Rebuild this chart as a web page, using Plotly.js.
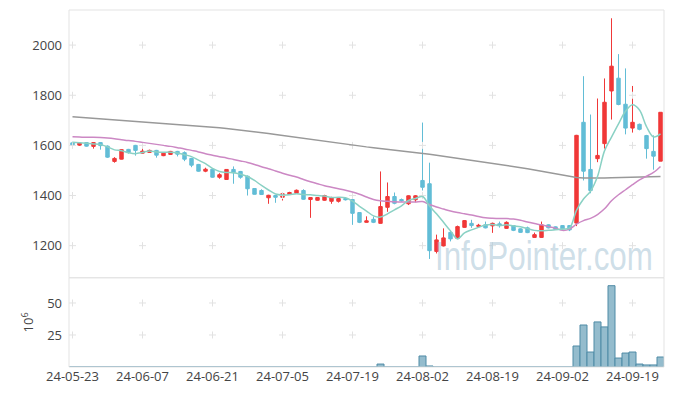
<!DOCTYPE html>
<html><head><meta charset="utf-8">
<script src="https://cdn.plot.ly/plotly-3.0.1.min.js"></script>
<style>html,body{margin:0;padding:0;background:#fff}#c{width:673px;height:396px}</style>
</head><body><div id="c"></div>
<script>
var dates = ["24-05-23","24-05-24","24-05-27","24-05-28","24-05-29","24-05-30","24-05-31","24-06-03","24-06-04","24-06-05",
"24-06-07","24-06-10","24-06-11","24-06-12","24-06-13","24-06-14","24-06-17","24-06-18","24-06-19","24-06-20",
"24-06-21","24-06-24","24-06-25","24-06-26","24-06-27","24-06-28","24-07-01","24-07-02","24-07-03","24-07-04",
"24-07-05","24-07-08","24-07-09","24-07-10","24-07-11","24-07-12","24-07-15","24-07-16","24-07-17","24-07-18",
"24-07-19","24-07-22","24-07-23","24-07-24","24-07-25","24-07-26","24-07-29","24-07-30","24-07-31","24-08-01",
"24-08-02","24-08-05","24-08-06","24-08-07","24-08-08","24-08-09","24-08-12","24-08-13","24-08-14","24-08-16",
"24-08-19","24-08-20","24-08-21","24-08-22","24-08-23","24-08-26","24-08-27","24-08-28","24-08-29","24-08-30",
"24-09-02","24-09-03","24-09-04","24-09-05","24-09-06","24-09-09","24-09-10","24-09-11","24-09-12","24-09-13",
"24-09-19","24-09-20","24-09-23","24-09-24","24-09-25"];

var openP = [1610,1601,1611,1596,1611,1597,1536,1545,1584,1600,
1569,1572,1580,1559,1564,1576,1571,1548,1524,1497,
1505,1473,1464,1504,1496,1477,1428,1420,1391,1400,
1393,1404,1409,1420,1384,1381,1381,1377,1377,1388,
1384,1332,1293,1305,1289,1353,1396,1384,1367,1383,
1460,1447,1177,1199,1253,1229,1273,1289,1277,1283,
1279,1287,1269,1280,1267,1271,1233,1233,1283,1275,
1280,1280,1290,1692,1504,1547,1607,1817,1868,1764,
1669,1684,1639,1576,1537];
var highP = [1614,1612,1613,1613,1613,1600,1553,1584,1586,1602,
1591,1583,1582,1572,1578,1578,1576,1550,1526,1511,
1507,1489,1504,1516,1498,1480,1430,1425,1403,1402,
1409,1415,1424,1425,1393,1394,1403,1395,1390,1392,
1396,1334,1317,1316,1496,1452,1412,1388,1401,1402,
1691,1531,1244,1269,1260,1280,1302,1303,1287,1296,
1292,1296,1297,1282,1269,1276,1252,1296,1285,1277,
1282,1282,1642,1876,1723,1787,1867,2107,1964,1907,
1837,1687,1642,1640,1732];
var lowP = [1598,1598,1595,1587,1583,1550,1531,1544,1567,1559,
1567,1570,1551,1557,1562,1556,1537,1513,1495,1493,
1471,1467,1462,1447,1467,1400,1404,1402,1367,1371,
1380,1402,1407,1383,1311,1379,1379,1367,1372,1380,
1283,1290,1292,1290,1288,1335,1365,1375,1362,1373,
1420,1147,1169,1197,1217,1227,1271,1271,1275,1269,
1251,1272,1267,1258,1251,1250,1231,1231,1269,1263,
1265,1258,1278,1460,1409,1533,1587,1703,1760,1644,
1651,1660,1547,1503,1537];
var closeP = [1601,1609,1597,1611,1599,1553,1548,1583,1572,1580,
1577,1580,1561,1569,1576,1565,1545,1521,1497,1505,
1473,1483,1504,1491,1473,1427,1405,1404,1401,1393,
1407,1412,1421,1385,1392,1392,1400,1392,1388,1383,
1329,1293,1299,1293,1356,1396,1369,1379,1399,1399,
1433,1180,1223,1231,1227,1276,1300,1280,1281,1271,
1289,1280,1293,1261,1253,1252,1244,1283,1271,1265,
1267,1263,1640,1497,1420,1560,1772,1916,1763,1669,
1692,1664,1587,1557,1732];

var ma5 = [1612,1610,1608,1606,1603,1594,1582,1579,1571,1567,
1572,1578,1574,1573,1573,1570,1563,1555,1541,1527,
1508,1496,1492,1491,1485,1476,1460,1440,1422,1406,
1402,1403,1407,1404,1403,1400,1398,1392,1393,1391,
1378,1357,1338,1319,1314,1327,1343,1359,1380,1388,
1396,1358,1327,1293,1259,1227,1251,1263,1273,1282,
1284,1280,1283,1279,1275,1268,1261,1259,1261,1263,
1266,1270,1341,1386,1417,1476,1578,1633,1686,1736,
1762,1741,1675,1634,1646];
var ma20 = [1634,1633,1632,1632,1631,1629,1626,1622,1619,1616,
1612,1608,1604,1600,1596,1591,1586,1580,1574,1567,
1561,1555,1550,1544,1538,1532,1524,1515,1507,1498,
1489,1481,1474,1464,1455,1447,1439,1433,1427,1421,
1414,1405,1394,1384,1379,1377,1375,1374,1374,1374,
1376,1364,1354,1346,1338,1332,1327,1322,1316,1311,
1309,1308,1308,1306,1301,1294,1288,1283,1276,1270,
1261,1266,1286,1300,1309,1324,1347,1379,1403,1423,
1443,1462,1477,1492,1516];
var ma120 = [1714,1712,1710,1708,1706,1704,1702,1700,1698,1696,
1694,1692,1690,1688,1686,1684,1682,1680,1678,1676,
1673,1670,1667,1664,1661,1658,1655,1651,1647,1643,
1639,1635,1631,1627,1623,1619,1615,1611,1607,1604,
1601,1597,1594,1591,1588,1585,1582,1579,1575,1572,
1568,1565,1561,1557,1553,1549,1545,1541,1537,1533,
1529,1525,1521,1517,1512,1507,1502,1497,1490,1485,
1480,1475,1472,1470,1469,1469,1470,1471,1472,1472,
1473,1473,1474,1475,1476];

var volume = [0,0,0,0,0,0,0,0,0,0,
0,0,0,0,0,0,0,0,0,0,
0,0,0,0,0,0,0,0,0,0,
0,0,0,0,0,0,0,0,0,0,
0,0,0,0,2.3,0,0,0,0,0,
8.6,0.8,0,0,0,0,0,0,0,0,
0,0,0,0,0,0,0,0,0,0,
0,0,16.4,32.8,11.7,35.2,31.3,63.5,7.0,10.9,
11.7,2.3,1.6,1.6,7.8];

var tickLabels = ["24-05-23","24-06-07","24-06-21","24-07-05","24-07-19","24-08-02","24-08-19","24-09-02","24-09-19"];
var priceTicks = [1200,1400,1600,1800,2000];
var volTicks = [25,50];

var UP = '#f03838', DOWN = '#62bdd6';
var cx = [], cy = [], vx = [], vy = [];
tickLabels.forEach(function(t){
  priceTicks.forEach(function(p){ cx.push(t); cy.push(p); });
  volTicks.forEach(function(v){ vx.push(t); vy.push(v); });
});

var crossMarker = {symbol:'cross-thin', size:5, line:{width:1, color:'#e2e2e2'}};
var traces = [
  {type:'scatter', mode:'markers', x:cx, y:cy, xaxis:'x', yaxis:'y', hoverinfo:'skip', marker:crossMarker},
  {type:'scatter', mode:'markers', x:vx, y:vy, xaxis:'x', yaxis:'y2', hoverinfo:'skip', marker:crossMarker},
  {type:'scatter', mode:'lines', x:dates, y:ma120, xaxis:'x', yaxis:'y',
   line:{color:'#999999', width:1.5}},
  {type:'scatter', mode:'lines', x:dates, y:ma20, xaxis:'x', yaxis:'y',
   line:{color:'#cc88c4', width:1.5, shape:'spline'}},
  {type:'scatter', mode:'lines', x:dates, y:ma5, xaxis:'x', yaxis:'y',
   line:{color:'#8ad1c4', width:1.5, shape:'spline'}},
  {type:'candlestick', x:dates, open:openP, high:highP, low:lowP, close:closeP,
   xaxis:'x', yaxis:'y', whiskerwidth:0,
   increasing:{line:{color:UP, width:1}, fillcolor:UP},
   decreasing:{line:{color:DOWN, width:1}, fillcolor:DOWN}},
  {type:'bar', x:dates, y:volume, xaxis:'x', yaxis:'y2',
   marker:{color:'#94bccd', line:{color:'#4f8ba6', width:1}}}
];

var tickFont = {family:'"Open Sans", "Noto Sans", sans-serif', size:13, color:'#444'};
var layout = {
  width:673, height:396,
  margin:{l:69, r:9, t:10, b:29, pad:0},
  paper_bgcolor:'#fff', plot_bgcolor:'#fff',
  showlegend:false,
  bargap:0,
  xaxis:{type:'category', categoryorder:'array', categoryarray:dates,
    range:[-0.5, dates.length-0.5], anchor:'y2',
    tickvals:tickLabels, ticktext:tickLabels, tickfont:tickFont,
    showgrid:false, zeroline:false, showline:false, ticks:'',
    rangeslider:{visible:false}, fixedrange:true},
  yaxis:{domain:[0.25,1], range:[1072,2140], tickvals:priceTicks, tickfont:tickFont,
    showgrid:false, zeroline:false, showline:false, ticks:'', ticklabelstandoff:6},
  yaxis2:{domain:[0,0.25], range:[0,69.7], tickvals:volTicks, tickfont:tickFont,
    showgrid:false, zeroline:false, showline:false, ticks:'', ticklabelstandoff:6,
    title:{text:'10<sup>6</sup>', font:{family:'"Open Sans", sans-serif', size:13, color:'#444'}, standoff:10}},
  shapes:[
    {type:'rect', xref:'paper', yref:'paper', x0:0, x1:1, y0:0.25, y1:1, line:{color:'#e3e3e3', width:1}},
    {type:'rect', xref:'paper', yref:'paper', x0:0, x1:1, y0:0, y1:0.25, line:{color:'#e3e3e3', width:1}}
  ],
  annotations:[
    {xref:'paper', yref:'paper', x:0.9854, y:0.311, xanchor:'right', yanchor:'middle', showarrow:false,
     text:'InfoPointer.com',
     font:{family:'"Liberation Sans", Arial, sans-serif', size:40, color:'rgba(165,195,213,0.55)'}}
  ]
};
Plotly.newPlot('c', traces, layout, {displayModeBar:false, staticPlot:true}).then(function(gd){
  var t = gd.querySelector('.annotation-text');
  if (t) {
    var b0 = t.getBBox();
    t.setAttribute('text-anchor', 'end');
    t.style.textAnchor = 'end';
    t.setAttribute('x', b0.x + b0.width);
    t.setAttribute('textLength', '218');
    t.setAttribute('lengthAdjust', 'spacingAndGlyphs');
    var bg = t.parentNode.querySelector('rect.bg');
    if (bg) {
      var bb = t.getBBox();
      bg.setAttribute('x', bb.x); bg.setAttribute('y', bb.y);
      bg.setAttribute('width', bb.width); bg.setAttribute('height', bb.height);
    }
  }
});
</script></body></html>
